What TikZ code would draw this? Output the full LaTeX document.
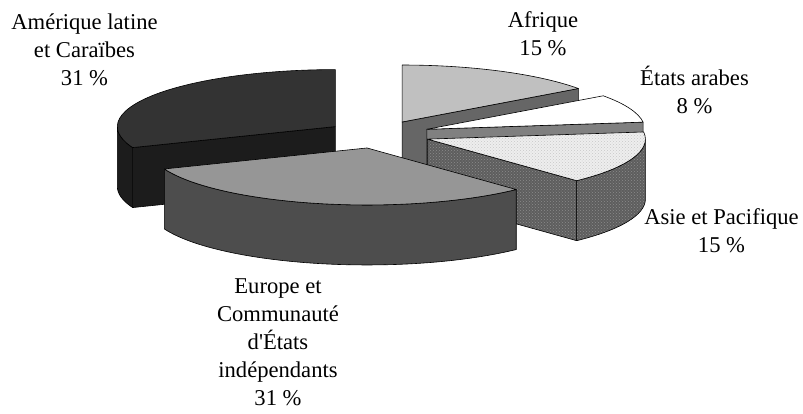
\documentclass[tikz,border=0pt]{standalone}
\usepackage{fontspec}
\setmainfont{Liberation Serif}
\usetikzlibrary{calc,patterns}
\definecolor{amtop}{HTML}{333333}
\definecolor{amside}{HTML}{1C1C1C}
\definecolor{aftop}{HTML}{C0C0C0}
\definecolor{afside}{HTML}{666666}
\definecolor{artop}{HTML}{FFFFFF}
\definecolor{arside}{HTML}{808080}
\definecolor{astop}{HTML}{EEEEEE}
\definecolor{astopdot}{HTML}{C8C8C8}
\definecolor{asside}{HTML}{5E5E5E}
\definecolor{assidedot}{HTML}{8C8C8C}
\definecolor{eutop}{HTML}{969696}
\definecolor{euside}{HTML}{4D4D4D}
\newcommand\outerwall[4]{\filldraw[slicepart,#4] ($(#1)+(#2:218pt and 57pt)$) arc[start angle=#2, end angle=#3, x radius=218pt, y radius=57pt] -- ++(0,-60) arc[start angle=#3, end angle=#2, x radius=218pt, y radius=57pt] -- cycle;}
\newcommand\radwall[3]{\filldraw[slicepart,#3] (#1) -- ($(#1)+(#2:218pt and 57pt)$) -- ++(0,-60) -- ($(#1)+(0,-60)$) -- cycle;}
\newcommand\topface[4]{\filldraw[slicepart,#4] (#1) -- ($(#1)+(#2:218pt and 57pt)$) arc[start angle=#2, end angle=#3, x radius=218pt, y radius=57pt] -- cycle;}
\begin{document}
\begin{tikzpicture}[x=1pt,y=1pt,
  slicepart/.style={draw=black, line width=0.6pt, line join=round},
  lbl/.style={font=\fontsize{22.6}{28}\selectfont, align=center, inner sep=0pt, anchor=base},
  asietop/.style={preaction={fill=astop}, pattern=crosshatch dots, pattern color=astopdot},
  asieside/.style={preaction={fill=asside}, pattern=crosshatch dots, pattern color=assidedot}]
\useasboundingbox (0,0) rectangle (803,-413);
\coordinate (C) at (378.4,-134.4);
\coordinate (Cam) at ($(C)+(145.8:52.1pt and 13.9pt)$);
\coordinate (Caf) at ($(C)+(63:52.1pt and 13.9pt)$);
\coordinate (Car) at ($(C)+(21.6:52.1pt and 13.9pt)$);
\coordinate (Cas) at ($(C)+(-19.8:52.1pt and 13.9pt)$);
\coordinate (Ceu) at ($(C)+(-102.6:52.1pt and 13.9pt)$);
% Amerique latine
\radwall{Cam}{-158.4}{fill=amside}
\outerwall{Cam}{-158.4}{-180}{fill=amside}
\topface{Cam}{-158.4}{-270}{fill=amtop}
% Afrique
\radwall{Caf}{36}{fill=afside}
\topface{Caf}{90}{36}{fill=aftop}
% Etats arabes
\radwall{Car}{7.2}{fill=arside}
\topface{Car}{36}{7.2}{fill=artop}
% Asie et Pacifique
\radwall{Cas}{-46.8}{asieside}
\outerwall{Cas}{0}{-46.8}{asieside}
\topface{Cas}{7.2}{-46.8}{asietop}
% Europe
\outerwall{Ceu}{-46.8}{-158.4}{fill=euside}
\topface{Ceu}{-46.8}{-158.4}{fill=eutop}
% labels (base = baseline of last line)
\node[lbl] (lam) at (84.5,-85) {Amérique latine\\et Caraïbes\\31 \%};
\node[lbl] (laf) at (543,-55) {Afrique\\15 \%};
\node[lbl] (lar) at (694.5,-113) {États arabes\\8 \%};
\node[lbl] (las) at (721.5,-252) {Asie et Pacifique\\15 \%};
\node[lbl] (leu) at (278,-405) {Europe et\\Communauté\\d\textquotesingle États\\indépendants\\31 \%};
\end{tikzpicture}
\end{document}
